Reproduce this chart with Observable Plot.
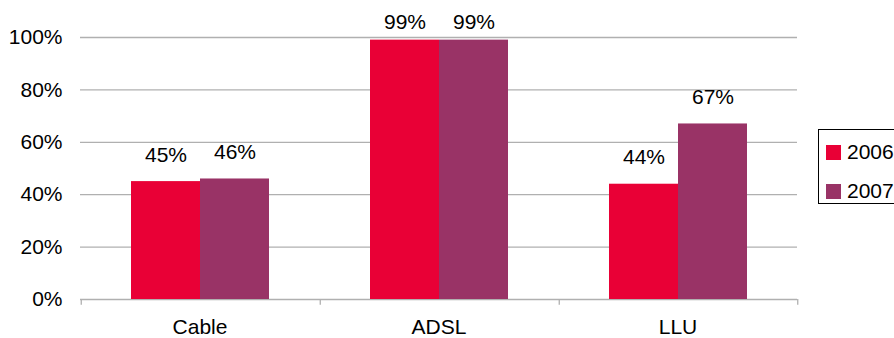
<!DOCTYPE html>
<html>
<head>
<meta charset="utf-8">
<script src="https://cdn.jsdelivr.net/npm/d3@7"></script>
<script src="https://cdn.jsdelivr.net/npm/@observablehq/plot@0.6"></script>
<style>
  html, body { margin: 0; padding: 0; background: #fff; overflow: hidden; }
  #wrap { position: relative; width: 894px; height: 338px; overflow: hidden; font-family: "Liberation Sans", Arial, sans-serif; }
  #legend { position: absolute; left: 818px; top: 129px; width: 100px; height: 75px; border: 1.5px solid #000; box-sizing: border-box; background: #fff; }
  .li { position: absolute; left: 7px; display: flex; align-items: center; font-size: 21px; color: #000; }
  .sw { width: 15px; height: 15px; margin-right: 6px; }
</style>
</head>
<body>
<div id="wrap"></div>
<script>
const categories = ["Cable", "ADSL", "LLU"];
const years = ["2006", "2007"];
const values2006 = [0.45, 0.99, 0.44];
const values2007 = [0.46, 0.99, 0.67];
const yTicks = [0, 0.2, 0.4, 0.6, 0.8, 1.0];
const colors = ["#E90036", "#993366"];

const table = [];
categories.forEach((c, i) => {
  table.push({cat: c, year: "2006", value: values2006[i]});
  table.push({cat: c, year: "2007", value: values2007[i]});
});

const W = 894, H = 338, mL = 80, mR = 97, mT = 37, mB = 39;
const facetW = (W - mL - mR) / categories.length;
const outer = 0.719;
const step = facetW / (2 + 2 * outer);
const edgeOffset = step / 2 + outer * step;
const font = "'Liberation Sans', Arial, sans-serif";

const chart = Plot.plot({
  width: W,
  height: H,
  marginLeft: mL,
  marginRight: mR,
  marginTop: mT,
  marginBottom: mB,
  style: {fontFamily: font, fontSize: "21px", color: "#000", background: "#fff"},
  facet: {data: table, x: "cat"},
  fx: {domain: categories, paddingInner: 0, paddingOuter: 0, label: null, tickSize: 0, tickPadding: 20, axis: "bottom"},
  x: {domain: years, paddingInner: 0, paddingOuter: outer, axis: null},
  y: {domain: [0, 1], ticks: yTicks, tickFormat: d => Math.round(d * 100) + "%", tickSize: 0, tickPadding: 18, label: null},
  color: {domain: years, range: colors},
  marks: [
    Plot.ruleY(yTicks, {stroke: "#b0b0b0", strokeWidth: 1.3}),
    Plot.ruleX(table, {filter: d => d.year === "2006", x: "year", y1: 0, y2: -0.022, dx: -edgeOffset, stroke: "#b0b0b0", strokeWidth: 1.3}),
    Plot.ruleX(table, {filter: d => d.year === "2007" && d.cat === categories[categories.length - 1], x: "year", y1: 0, y2: -0.022, dx: edgeOffset, stroke: "#b0b0b0", strokeWidth: 1.3}),
    Plot.barY(table, {x: "year", y: "value", fill: "year"}),
    Plot.text(table, {filter: d => d.value < 0.95, x: "year", y: "value", text: d => Math.round(d.value * 100) + "%", dy: -26.5, fill: "#000", fontSize: 21}),
    Plot.text(table, {filter: d => d.value >= 0.95, x: "year", y: "value", text: d => Math.round(d.value * 100) + "%", dy: -18, fill: "#000", fontSize: 21})
  ]
});

// remove Plot's warning indicator, if any
chart.querySelectorAll("text").forEach(t => {
  if (t.textContent.includes("\u26a0")) t.remove();
});

const wrap = document.getElementById("wrap");
wrap.appendChild(chart);

const legend = document.createElement("div");
legend.id = "legend";
years.forEach((y, i) => {
  const item = document.createElement("div");
  item.className = "li";
  item.style.top = (i === 0 ? 10 : 49) + "px";
  const sw = document.createElement("div");
  sw.className = "sw";
  sw.style.background = colors[i];
  const t = document.createElement("span");
  t.textContent = y;
  item.appendChild(sw);
  item.appendChild(t);
  legend.appendChild(item);
});
wrap.appendChild(legend);
</script>
</body>
</html>
